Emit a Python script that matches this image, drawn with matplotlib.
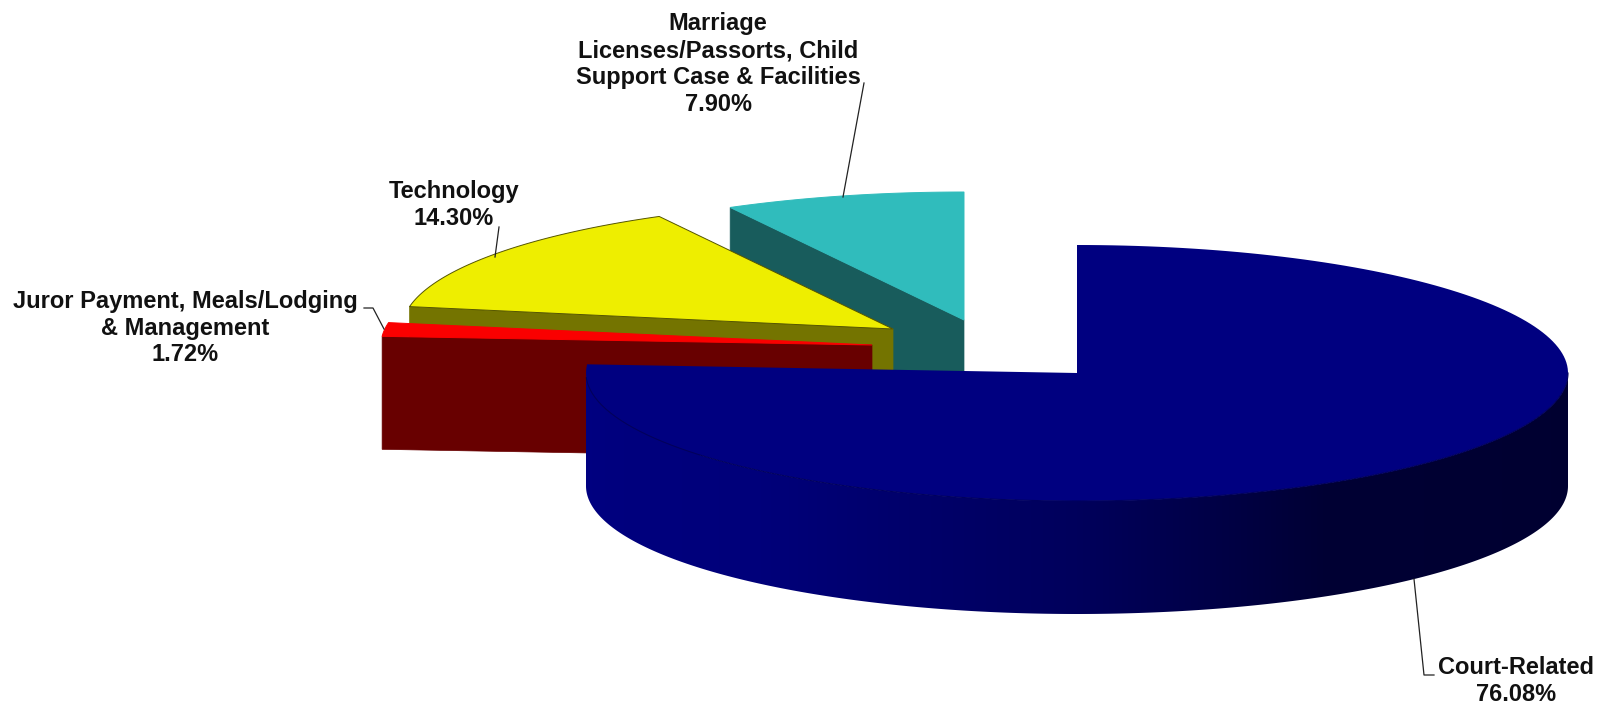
#!/usr/bin/env python3
import numpy as np
import matplotlib
matplotlib.use('Agg')
import matplotlib.pyplot as plt
from matplotlib.patches import Polygon

# data set, clockwise from 12 o'clock
names = ['Court-Related', 'Juror Payment, Meals/Lodging\n& Management', 'Technology',
         'Marriage\nLicenses/Passorts, Child\nSupport Case & Facilities']
values = [76.08, 1.72, 14.30, 7.90]
value_labels = ['76.08%', '1.72%', '14.30%', '7.90%']

top_colors = ['#000080', '#fa0000', '#eeee00', '#30bcbc']
face_colors = ['#000080', '#680000', '#747400', '#185c5c']

# pie geometry in picture pixels
centers = [(1077, 373), (872, 345), (893, 329), (964, 320)]
rx, ry, depth = 491, 128, 113

label_pos = [(1516, 681), (185, 328), (454, 205), (718, 64)]
leaders = [[(1414, 579), (1424, 675), (1434, 675)],
           [(364, 308), (373, 308), (384, 329)],
           [(499, 227), (495, 257)],
           [(864, 83), (843, 197)]]

# shading of the blue outer wall: angle in degrees, blue channel
wall_angles = [90, 150, 180, 220, 275]
wall_blue = [48, 52, 92, 122, 130]

fig = plt.figure(figsize=(16.01, 7.05), dpi=100)
ax = fig.add_axes([0, 0, 1, 1])


def rim(center, t):
    t = np.radians(t)
    return np.column_stack([center[0] + rx * np.sin(t), center[1] - ry * np.cos(t)])


angles = 360 * np.cumsum([0] + values) / sum(values)

# back slices first, the big one last
for i in [3, 2, 1, 0]:
    c = centers[i]
    t0, t1 = angles[i], angles[i + 1]
    z = 5 - i
    if i == 0:
        # outer wall: horizontal gradient clipped to the wall outline
        ts = np.linspace(90, 270, 300)
        p = rim(c, ts)
        outline = Polygon(np.vstack([p, (p + [0, depth])[::-1]]), transform=ax.transData, fc='none', ec='none')
        ax.add_patch(outline)
        xs = np.linspace(c[0] - rx, c[0] + rx, 800)
        a = 180 - np.degrees(np.arcsin((xs - c[0]) / rx))
        shade = np.zeros((1, len(xs), 3))
        shade[0, :, 2] = np.interp(a, wall_angles, wall_blue) / 255
        im = ax.imshow(shade, extent=[c[0] - rx, c[0] + rx, c[1] + ry + depth + 2, c[1] - 12],
                       aspect='auto', zorder=z, interpolation='bilinear')
        im.set_clip_path(outline)
    else:
        # radial wall that faces the viewer
        p = np.vstack([rim(c, [t0]), [c]])
        q = p + [0, depth]
        ax.add_patch(Polygon(np.vstack([p, q[::-1]]), fc=face_colors[i], ec=face_colors[i], lw=0.5, zorder=z))
    ts = np.linspace(t0, t1, 200)
    edge = '#555500' if i == 2 else top_colors[i]
    ax.add_patch(Polygon(np.vstack([[c], rim(c, ts)]), fc=top_colors[i], ec=edge if i else 'none',
                         lw=0.7, zorder=z + 0.5))
    if i == 0:
        seam = rim(c, np.linspace(90, t1 - 6, 200))
        ax.plot(seam[:, 0], seam[:, 1], color='#00005e', lw=0.8, zorder=5.6)

# label leaders
for pts in leaders:
    pts = np.array(pts)
    ax.plot(pts[:, 0], pts[:, 1], color='#222222', lw=0.9, zorder=7)

for i in range(len(names)):
    ax.text(label_pos[i][0], label_pos[i][1], names[i] + '\n' + value_labels[i], ha='center', va='center',
            multialignment='center', fontsize=17, fontweight='bold', family='Liberation Sans',
            linespacing=1.22, color='#111111', zorder=8)

ax.set_xlim(0, 1601)
ax.set_ylim(705, 0)
ax.axis('off')

fig.savefig('out.png', dpi=100)
